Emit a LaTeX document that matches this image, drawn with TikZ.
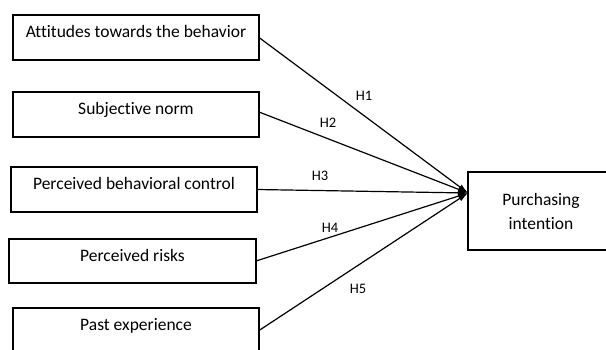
\documentclass[tikz,border=0pt]{standalone}
\usepackage{fontspec}
\setmainfont{Carlito}[Ligatures=NoCommon]
\usetikzlibrary{arrows.meta}
\begin{document}
\begin{tikzpicture}[x=1pt,y=-1pt,
  factor/.style={draw=black, line width=1.3pt, inner sep=0pt, outer sep=0pt,
    minimum height=45pt, font=\fontsize{17.5}{24}\selectfont,
    text height=8pt, text depth=8pt},
  outcome/.style={draw=black, line width=1.3pt, inner sep=0pt, outer sep=0pt,
    minimum width=146pt, minimum height=78pt, align=center,
    font=\fontsize{17.5}{24}\selectfont},
  path/.style={line width=1.2pt, -{Latex[length=10pt,width=6pt]}},
  hyp/.style={anchor=base, inner sep=0pt, font=\fontsize{14.5}{17}\selectfont}]
  \useasboundingbox (0,0) rectangle (606,349);
  \clip (0,0) rectangle (606,349);
  \fill[white] (0,0) rectangle (606,349);

  % predictor boxes
  \node[factor, minimum width=246pt] (att)  at (136,37.5)  {Attitudes towards the behavior};
  \node[factor, minimum width=246pt] (norm) at (136,114.5) {Subjective norm};
  \node[factor, minimum width=246pt] (pbc)  at (134,189.5) {Perceived behavioral control};
  \node[factor, minimum width=247pt, minimum height=44pt] (risk) at (132.5,261) {Perceived risks};
  \node[factor, minimum width=246pt] (past) at (136,330.5) {Past experience};

  % outcome box
  \node[outcome] (pi) at (541,211) {Purchasing\\intention};
  \coordinate (pin) at (468,193);

  % hypothesised paths
  \draw[path] (att.east)  -- (pin);
  \draw[path] ([yshift=2.5pt]norm.east) -- (pin);
  \draw[path] (pbc.east)  -- (pin);
  \draw[path] (risk.east) -- (pin);
  \draw[path] (past.east) -- (pin);

  % path labels
  \node[hyp] (h1) at (364,100)   {H1};
  \node[hyp] (h2) at (328,127.7) {H2};
  \node[hyp] (h3) at (320,180.7) {H3};
  \node[hyp] (h4) at (330,232.7) {H4};
  \node[hyp] (h5) at (358,293.7) {H5};
\end{tikzpicture}
\end{document}
